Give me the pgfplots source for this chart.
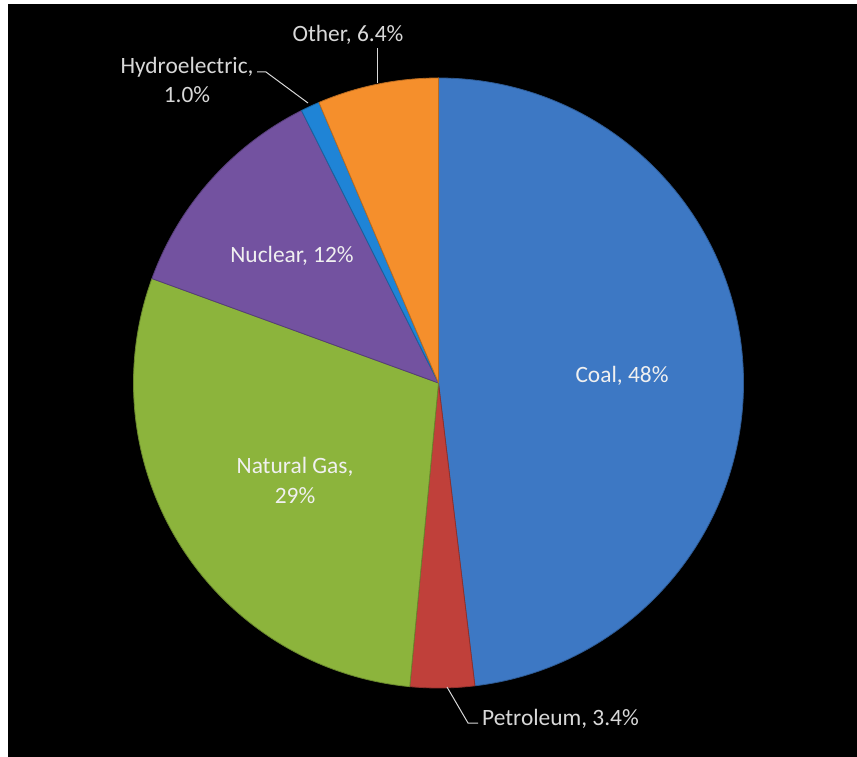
\documentclass[border=0pt]{standalone}
\usepackage{pgfplots}
\pgfplotsset{compat=1.18}
\usepackage{pgfplotstable}
\usepackage{fontspec}
\setmainfont{Carlito}

\definecolor{slice0}{HTML}{3D78C4}
\definecolor{slice1}{HTML}{C0403A}
\definecolor{slice2}{HTML}{8CB43C}
\definecolor{slice3}{HTML}{7352A0}
\definecolor{slice4}{HTML}{1F84D6}
\definecolor{slice5}{HTML}{F58F2C}
\definecolor{lbl}{HTML}{F0F0F0}
\definecolor{lead}{HTML}{D8D8D8}
\tikzset{lab/.style={font=\fontsize{23.4bp}{28.5bp}\selectfont}}

\pgfplotstableread{
name value
Coal 48
Petroleum 3.4
NaturalGas 29
Nuclear 12
Hydroelectric 1.0
Other 6.4
}\piedata

\begin{document}
\begin{tikzpicture}
\pgfmathsetmacro\total{0}
\pgfplotsforeachungrouped \i in {0,...,5}{%
  \pgfplotstablegetelem{\i}{value}\of\piedata
  \pgfmathsetmacro\total{\total+\pgfplotsretval}}
\pgfmathsetmacro\cum{0}
\pgfplotsforeachungrouped \i in {0,...,5}{%
  \pgfplotstablegetelem{\i}{value}\of\piedata
  \let\v\pgfplotsretval
  \pgfmathsetmacro\a{90-(\cum/\total)*360}
  \pgfmathsetmacro\cum{\cum+\v}
  \pgfmathsetmacro\b{90-(\cum/\total)*360}
  \expandafter\xdef\csname angS\i\endcsname{\a}
  \expandafter\xdef\csname angE\i\endcsname{\b}}
\begin{axis}[x=1bp, y=1bp, xmin=0, xmax=857, ymin=0, ymax=757,
  y dir=reverse, hide axis, clip=false]
\fill[white] (axis cs:0,0) rectangle (axis cs:857,757);
\fill[black] (axis cs:8,4) rectangle (axis cs:857,757);
\pgfplotsinvokeforeach{0,...,5}{
  \fill[slice#1, draw=slice#1!75!black, line width=0.8bp, line join=round]
    (axis cs:438.5,383) -- ++(\csname angS#1\endcsname:305bp)
    arc[start angle=\csname angS#1\endcsname, end angle=\csname angE#1\endcsname, radius=305bp] -- cycle;
}
% labels
\node[lab, lbl, anchor=base] at (axis cs:622,382) {Coal, 48\%};
\node[lab, lbl, anchor=base, align=center] at (axis cs:295,503) {Natural Gas,\\[1.5bp]29\%};
\node[lab, lbl, anchor=base] at (axis cs:292,262) {Nuclear, 12\%};
\node[lab, lead, anchor=base] at (axis cs:348,42) {Other, 6.4\%};
\node[lab, lead, anchor=base, align=center] at (axis cs:187,102) {Hydroelectric,\\1.0\%};
\node[lab, lead, anchor=base west, inner sep=0pt] at (axis cs:482,725) {Petroleum, 3.4\%};
% leader lines
\draw[lead, line width=1bp] (axis cs:377,83) -- (axis cs:377,48);
\draw[lead, line width=1bp] (axis cs:257,72) -- (axis cs:266,72) -- (axis cs:308,103);
\draw[lead, line width=1bp] (axis cs:447,687) -- (axis cs:468,723) -- (axis cs:478,723);
\end{axis}
\end{tikzpicture}
\end{document}
